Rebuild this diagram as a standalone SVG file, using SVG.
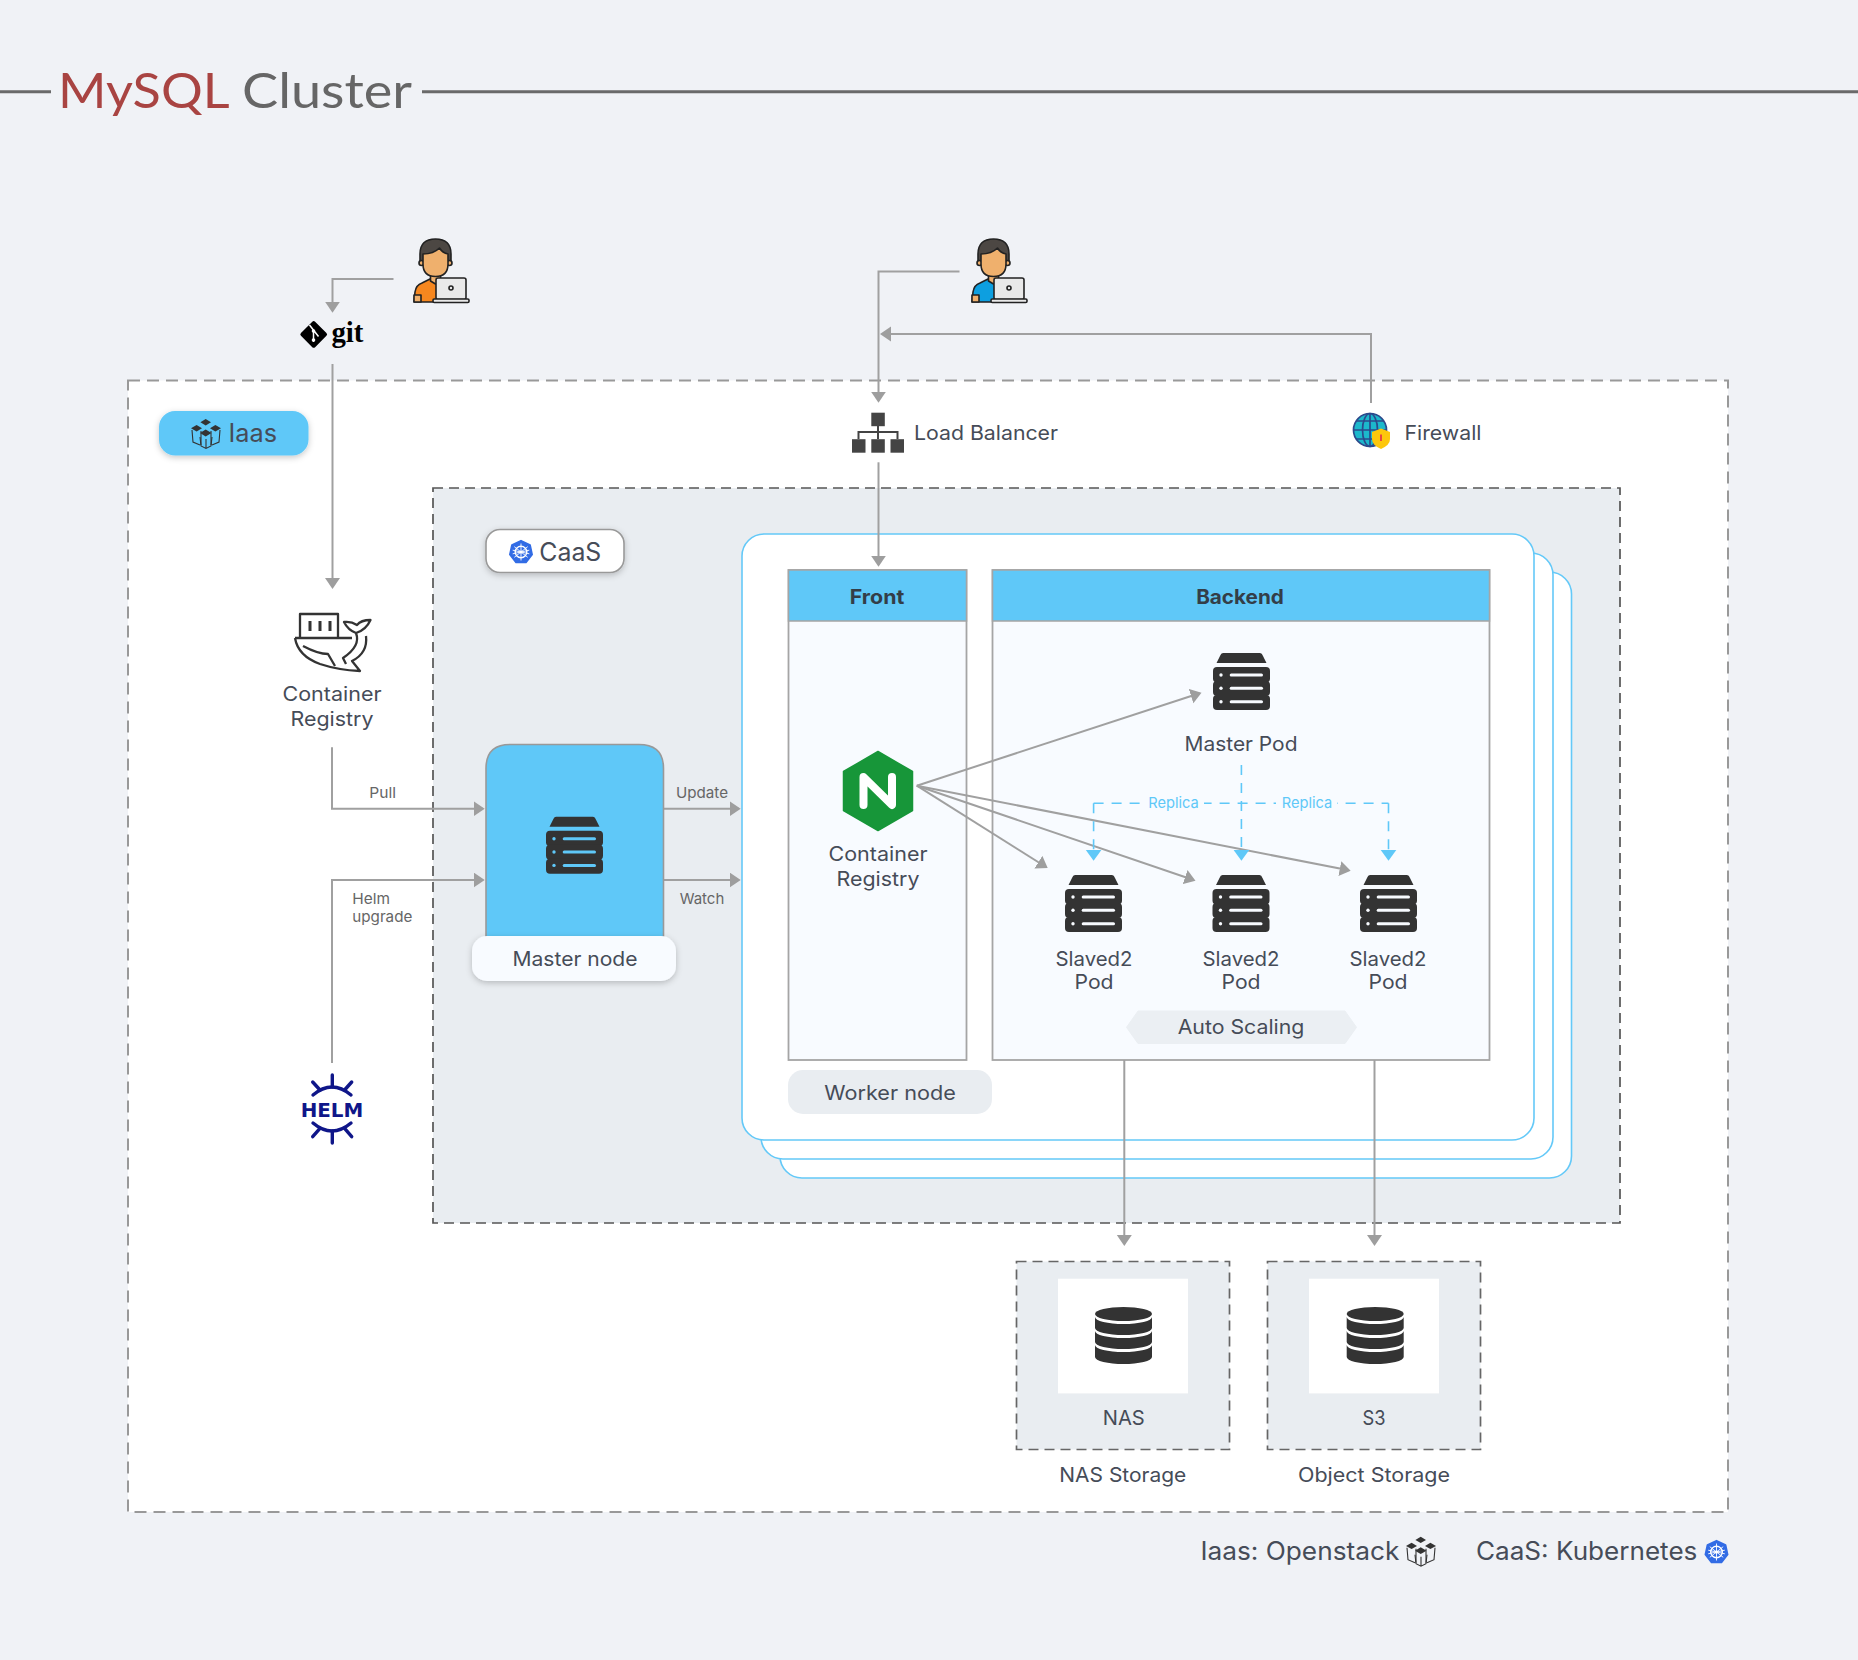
<svg xmlns="http://www.w3.org/2000/svg" width="1858" height="1660" viewBox="0 0 1858 1660">
<style>
text{font-family:Inter,"Noto Sans","Liberation Sans",sans-serif;fill:#464c58;font-size:20px}
.m{text-anchor:middle}
.s{font-size:15px;fill:#666}
.r{font-size:15px;fill:#5fc8f8;text-anchor:middle}
.l{font-size:25px}
.b{font-weight:700;fill:#333e48;text-anchor:middle}
.conn{fill:none;stroke:#a0a0a0;stroke-width:2}
.rep{fill:none;stroke:#5fc8f8;stroke-width:1.6;stroke-dasharray:10 8}
.worker{fill:#fff;stroke:#64c9f8;stroke-width:1.6}
.panel{fill:#f8fbff;stroke:#a5a5a5;stroke-width:1.8}
.head{fill:#5fc8f8;stroke:#a5a5a5;stroke-width:1.5}
.store{fill:#e9edf1;stroke:#666;stroke-width:1.7;stroke-dasharray:10 6}
</style>
<defs>
<filter id="sh" x="-20%" y="-30%" width="140%" height="170%"><feDropShadow dx="0" dy="2" stdDeviation="3" flood-color="#000" flood-opacity=".22"/></filter>
<marker id="a" markerUnits="userSpaceOnUse" markerWidth="12" markerHeight="16" refX="9" refY="7.5" orient="auto"><path d="M0 0L11 7.5L0 15Z" fill="#9e9e9e"/></marker>
<marker id="ab" markerUnits="userSpaceOnUse" markerWidth="12" markerHeight="17" refX="9" refY="8" orient="auto"><path d="M0 0L11 8L0 16Z" fill="#5fc8f8"/></marker>
<symbol id="server" viewBox="0 0 57 57" overflow="visible">
<path d="M10 0H47Q49 0 50 3L53.5 10H3.500L7 3Q8 0 10 0Z" fill="#333"/>
<rect y="14" width="57" height="15.500" rx="4" fill="#333"/><rect y="28" width="57" height="15" rx="4" fill="#333"/><rect y="42" width="57" height="15" rx="4" fill="#333"/>
<g fill="currentColor"><circle cx="8" cy="22" r="1.700"/><circle cx="8" cy="35.300" r="1.700"/><circle cx="8" cy="48.700" r="1.700"/>
<rect x="16.700" y="20.500" width="33.300" height="3" rx="1.500"/><rect x="16.700" y="33.800" width="33.300" height="3" rx="1.500"/><rect x="16.700" y="47.200" width="33.300" height="3" rx="1.500"/></g>
</symbol>
<symbol id="db" viewBox="0 0 57 57" overflow="visible"><g fill="#333">
<ellipse cx="28.500" cy="7" rx="28.500" ry="7"/>
<path d="M0 10A28.500 7 0 0 0 57 10V21A28.500 7 0 0 1 0 21Z"/>
<path d="M0 24A28.500 7 0 0 0 57 24V35A28.500 7 0 0 1 0 35Z"/>
<path d="M0 38A28.500 7 0 0 0 57 38V50A28.500 7 0 0 1 0 50Z"/></g>
</symbol>
<symbol id="user" viewBox="0 0 58 64" overflow="visible"><g stroke="#222" stroke-width="1.600" stroke-linejoin="round">
<path d="M2 63L3 53Q4 46 10 44L18 40H27V63Z" fill="currentColor"/>
<g transform="translate(1.500 0)">
<path d="M17 33H27V42L22 45L17 42Z" fill="#efb06d"/>
<path d="M6.500 25V15Q6.500 0 22 0Q37.500 0 37.500 15V25Z" fill="#4c4743"/>
<circle cx="8" cy="24" r="2.500" fill="#efb06d"/><circle cx="36" cy="24" r="2.500" fill="#efb06d"/>
<path d="M9.500 15Q20 15 26 9Q29 14 34.500 15V25Q34.500 37.500 22 37.500Q9.500 37.500 9.500 25Z" fill="#efb06d"/>
</g>
<path d="M2 63V56H9V63Z" fill="#efb06d"/>
<rect x="24" y="39" width="30" height="21.500" rx="2" fill="#e9e9e9"/>
<circle cx="39" cy="49" r="2" fill="#e9e9e9"/>
<rect x="21" y="60" width="36" height="3.500" rx="1.200" fill="#e9e9e9"/></g>
</symbol>
<symbol id="os" viewBox="0 0 30 30" overflow="visible"><g fill="none" stroke="#333" stroke-width="1.100">
<path d="M1 11L2 23L9 26M10 12V26"/><path d="M29 11L28 23L21 26M20 12V26"/>
<path d="M9 18L10 27L15 29.500L20 27L21 18M15 20V29.500"/></g>
<g fill="#333"><path d="M14.700 0L20 3.200L14.700 6.400L9.400 3.200Z"/><path d="M5.600 6L11 9.200L5.600 12.400L0 9.200Z"/><path d="M24.400 6L30 9.200L24.400 12.400L19 9.200Z"/><path d="M14.700 10.600L20.500 14L14.700 17.400L9 14Z"/></g>
</symbol>
<symbol id="k8s" viewBox="0 0 24 24" overflow="visible">
<path d="M12 .6L21.100 5L23.200 14.600L17 22.400H7L.8 14.600L2.900 5Z" fill="#326ce5" stroke="#326ce5" stroke-width="1.600" stroke-linejoin="round"/>
<g stroke="#fff" fill="none"><circle cx="12" cy="12" r="5.800" stroke-width="1.400"/>
<path stroke-width=".9" d="M12 3.500V20.500M5.300 6.700L18.700 17.300M18.700 6.700L5.300 17.300M3.700 13.800L20.300 10.200M3.700 10.200L20.300 13.800"/></g><circle cx="12" cy="12" r="1.600" fill="#fff"/>
</symbol>
</defs>
<rect id="background" width="1858" height="1660" fill="#f0f2f6"/>

<g id="title">
<path d="M0 91.700H51M422 91.700H1858" stroke="#6a6a6a" stroke-width="3" fill="none"/>
<text y="108" style="font-family:Lato,'Noto Sans',sans-serif;font-size:48px;fill:#666"><tspan x="58" textLength="170" lengthAdjust="spacingAndGlyphs" style="fill:#a94442">MySQL</tspan> <tspan x="242" textLength="170" lengthAdjust="spacingAndGlyphs">Cluster</tspan></text>
</g>

<g id="iaas-zone"><rect x="128" y="380.500" width="1600" height="1131.500" fill="#fff" stroke="#999" stroke-width="2" stroke-dasharray="12 7"/></g>
<g id="caas-zone"><rect x="433" y="488" width="1187" height="735" fill="#e9edf1" stroke="#555" stroke-width="1.700" stroke-dasharray="10 6"/></g>
<g id="worker-stack">
<rect class="worker" x="780" y="572" width="791.500" height="606" rx="22"/>
<rect class="worker" x="761" y="553" width="792" height="606" rx="22"/>
<rect class="worker" x="742" y="534" width="792" height="606" rx="22"/>
</g>
<g id="front">
<rect class="panel" x="788.500" y="570" width="178" height="490"/>
<rect class="head" x="788.500" y="570" width="178" height="51"/>
<text class="b" x="877" y="603.500" textLength="54.500" lengthAdjust="spacingAndGlyphs">Front</text>
</g>
<g id="backend">
<rect class="panel" x="992.500" y="570" width="497" height="490"/>
<rect class="head" x="992.500" y="570" width="497" height="51"/>
<text class="b" x="1240" y="603.500" textLength="87.700" lengthAdjust="spacingAndGlyphs">Backend</text>
</g>
<g id="nas-box"><rect class="store" x="1016.500" y="1261.500" width="213" height="188"/></g>
<g id="s3-box"><rect class="store" x="1267.500" y="1261.500" width="213" height="188"/></g>

<g id="connectors">
<path class="conn" d="M393.500 279H332.500V310.700" marker-end="url(#a)"/>
<path class="conn" d="M332.500 364V587" marker-end="url(#a)"/>
<path class="conn" d="M959.500 271.500H878.500V400.700" marker-end="url(#a)"/>
<path class="conn" d="M1371 403V334H882" marker-end="url(#a)"/>
<path class="conn" d="M878.500 462.300V564.700" marker-end="url(#a)"/>
<path class="conn" d="M332 747.300V808.700H482.700" marker-end="url(#a)"/>
<path class="conn" d="M332 1063V880H482.700" marker-end="url(#a)"/>
<path class="conn" d="M663.500 808.700H738.700" marker-end="url(#a)"/>
<path class="conn" d="M663.500 880H738.700" marker-end="url(#a)"/>
<path class="conn" d="M916.800 785.700L1199.600 693.300" marker-end="url(#a)"/>
<path class="conn" d="M916.800 785.700L1046 867" marker-end="url(#a)"/>
<path class="conn" d="M916.800 785.700L1193.600 880" marker-end="url(#a)"/>
<path class="conn" d="M916.800 785.700L1348.700 870.300" marker-end="url(#a)"/>
<path class="conn" d="M1124.300 1060V1244" marker-end="url(#a)"/>
<path class="conn" d="M1374.500 1060V1244" marker-end="url(#a)"/>
<path class="rep" d="M1093.600 803.300H1388.500"/>
<path class="rep" d="M1093.600 803.300V858.700" marker-end="url(#ab)"/>
<path class="rep" d="M1241.400 765V858.700" marker-end="url(#ab)"/>
<path class="rep" d="M1388.500 803.300V858.700" marker-end="url(#ab)"/>
<rect x="1143" y="793" width="61" height="20" fill="#f8fbff"/>
<rect x="1276" y="793" width="61" height="20" fill="#f8fbff"/>
<text class="r" x="1173.500" y="808" textLength="50.500" lengthAdjust="spacingAndGlyphs">Replica</text>
<text class="r" x="1307" y="808" textLength="50.500" lengthAdjust="spacingAndGlyphs">Replica</text>
<text class="s m" x="382.700" y="798" textLength="26.700" lengthAdjust="spacingAndGlyphs">Pull</text>
<text class="s" x="352.300" y="904" textLength="37.700" lengthAdjust="spacingAndGlyphs">Helm</text>
<text class="s" x="352.300" y="921.700" textLength="60" lengthAdjust="spacingAndGlyphs">upgrade</text>
<text class="s m" x="702" y="798" textLength="52" lengthAdjust="spacingAndGlyphs">Update</text>
<text class="s m" x="702" y="904" textLength="44.700" lengthAdjust="spacingAndGlyphs">Watch</text>
</g>

<g id="iaas-badge">
<rect x="159" y="411" width="149.500" height="44.500" rx="16" fill="#5fc8f8" filter="url(#sh)"/>
<use href="#os" x="191" y="419" width="30" height="30"/>
<text class="l" x="228.500" y="442" textLength="48.500" lengthAdjust="spacingAndGlyphs">Iaas</text>
</g>
<g id="caas-badge">
<rect x="486" y="529.500" width="138" height="43" rx="14" fill="#fff" stroke="#999" stroke-width="1.600" filter="url(#sh)"/>
<use href="#k8s" x="509" y="540" width="24" height="24"/>
<text class="l" x="539.300" y="561" textLength="62" lengthAdjust="spacingAndGlyphs">CaaS</text>
</g>

<g id="user-git"><use href="#user" x="412" y="239" width="58" height="64" color="#f6871f"/></g>
<g id="user-lb"><use href="#user" x="970" y="239" width="58" height="64" color="#0d9fe0"/></g>

<g id="git">
<rect x="303.700" y="324.400" width="20" height="20" rx="2" transform="rotate(45 313.700 334.400)" fill="#000"/>
<path d="M309.500 325L318.500 336.500M313.500 331V342" stroke="#fff" stroke-width="1.500" fill="none"/><circle cx="313.500" cy="331" r="1.800" fill="#fff"/><circle cx="313.500" cy="340" r="1.800" fill="#fff"/>
<text x="331.400" y="341.700" textLength="32" lengthAdjust="spacingAndGlyphs" style="font-family:'Liberation Serif',serif;font-weight:700;font-size:29px;fill:#000">git</text>
</g>

<g id="load-balancer">
<path d="M878 426V439M858.500 439V432H897.500V439" fill="none" stroke="#444" stroke-width="2"/>
<g fill="#444"><rect x="871.300" y="412.700" width="13.500" height="13.500"/><rect x="852" y="439.200" width="13.500" height="13.500"/><rect x="871.300" y="439.200" width="13.500" height="13.500"/><rect x="890.500" y="439.200" width="13.500" height="13.500"/></g>
<text x="914" y="440" textLength="144" lengthAdjust="spacingAndGlyphs">Load Balancer</text>
</g>

<g id="firewall">
<circle cx="1370" cy="430" r="16.500" fill="#1cb8cc"/>
<g fill="none" stroke="#2c4a8c" stroke-width="1.700"><circle cx="1370" cy="430" r="16.500"/><ellipse cx="1370" cy="430" rx="7.500" ry="16.500"/><path d="M1370 413.500V446.500M1353.500 430H1386.500M1356 421H1384M1356 439H1384"/></g>
<path d="M1381 428.500L1390 432V439Q1390 445 1381 449Q1372 445 1372 439V432Z" fill="#fdc70c"/>
<path d="M1381 434.500V441" stroke="#e8483f" stroke-width="2"/>
<text x="1404.500" y="440" textLength="77" lengthAdjust="spacingAndGlyphs">Firewall</text>
</g>

<g id="container-registry">
<g fill="none" stroke="#333" stroke-width="2.300" stroke-linejoin="round" transform="translate(288 608)">
<path d="M12 30V6H50V30"/><path d="M22 13V23M32 13V23M42 13V23" stroke-width="3"/>
<path d="M7 30H64M7 30Q10 48 32 56Q50 62 72 63L64 53Q80 45 78 28"/>
<path d="M15 38Q30 46 40 46L47 58"/>
<path d="M56 14Q60 22 68 25Q78 22 82.500 12Q73 12 69 17Q63 13 56 14Z"/>
<path d="M68 25Q73 38 55 50L58 56"/>
</g>
<text class="m" x="332" y="701" textLength="99" lengthAdjust="spacingAndGlyphs">Container</text>
<text class="m" x="332" y="725.500" textLength="83" lengthAdjust="spacingAndGlyphs">Registry</text>
</g>

<g id="helm">
<g fill="none" stroke="#0f1689" stroke-width="3.400" stroke-linecap="round">
<path d="M313 1095Q332 1079 351 1095M313 1123Q332 1139 351 1123"/>
<path d="M332.300 1075V1087M312.700 1082L320 1090M351.700 1082L344.600 1090M332.300 1131V1143M312.700 1136.700L320 1128.300M351.700 1136.700L344.600 1128.300"/>
</g>
<text class="m" x="332" y="1116.700" textLength="62.600" lengthAdjust="spacingAndGlyphs" style="font-family:'DejaVu Sans',sans-serif;font-weight:700;font-size:20px;fill:#0f1689">HELM</text>
</g>

<g id="master-node">
<path d="M486 944V768.500Q486 744.500 510 744.500H639Q663.500 744.500 663.500 768.500V944Z" fill="#5fc8f8" stroke="#999" stroke-width="1.600"/>
<use href="#server" x="546" y="816.700" width="57" height="57" color="#5fc8f8"/>
<rect x="472" y="936" width="204" height="45" rx="15" fill="#f8fbff" filter="url(#sh)"/>
<text class="m" x="575" y="966" textLength="125" lengthAdjust="spacingAndGlyphs">Master node</text>
</g>

<g id="worker-label">
<rect x="788" y="1070" width="204" height="44" rx="15" fill="#e9edf1"/>
<text class="m" x="890" y="1099.500" textLength="131.500" lengthAdjust="spacingAndGlyphs">Worker node</text>
</g>

<g id="nginx">
<path d="M878 751.500L912.500 771.500V810.500L878 830.500L843.500 810.500V771.500Z" fill="#179639" stroke="#179639" stroke-width="1.500" stroke-linejoin="round"/>
<path d="M863.500 805V777L892 805V777" fill="none" stroke="#fff" stroke-width="8" stroke-linecap="round" stroke-linejoin="round"/>
<text class="m" x="878" y="861" textLength="99" lengthAdjust="spacingAndGlyphs">Container</text>
<text class="m" x="878" y="885.500" textLength="83" lengthAdjust="spacingAndGlyphs">Registry</text>
</g>

<g id="master-pod">
<use href="#server" x="1213" y="653" width="57" height="57" color="#f8fbff"/>
<text class="m" x="1241" y="751" textLength="113" lengthAdjust="spacingAndGlyphs">Master Pod</text>
</g>
<g id="slave-pod-1">
<use href="#server" x="1065" y="875" width="57" height="57" color="#f8fbff"/>
<text class="m" x="1094" y="965.500" textLength="77" lengthAdjust="spacingAndGlyphs">Slaved2</text>
<text class="m" x="1094" y="989" textLength="39" lengthAdjust="spacingAndGlyphs">Pod</text>
</g>
<g id="slave-pod-2">
<use href="#server" x="1212.500" y="875" width="57" height="57" color="#f8fbff"/>
<text class="m" x="1241" y="965.500" textLength="77" lengthAdjust="spacingAndGlyphs">Slaved2</text>
<text class="m" x="1241" y="989" textLength="39" lengthAdjust="spacingAndGlyphs">Pod</text>
</g>
<g id="slave-pod-3">
<use href="#server" x="1360" y="875" width="57" height="57" color="#f8fbff"/>
<text class="m" x="1388" y="965.500" textLength="77" lengthAdjust="spacingAndGlyphs">Slaved2</text>
<text class="m" x="1388" y="989" textLength="39" lengthAdjust="spacingAndGlyphs">Pod</text>
</g>
<g id="auto-scaling">
<path d="M1138 1011H1345L1356.500 1027.300L1345 1043.500H1138L1126.500 1027.300Z" fill="#ebeff3" stroke="#ebeff3" stroke-linejoin="round"/>
<text class="m" x="1241" y="1034" textLength="126.700" lengthAdjust="spacingAndGlyphs">Auto Scaling</text>
</g>

<g id="nas">
<rect x="1058" y="1278.700" width="130" height="114.700" fill="#fff"/>
<use href="#db" x="1095" y="1307" width="57" height="57"/>
<text class="m" x="1123.800" y="1425" textLength="42" lengthAdjust="spacingAndGlyphs">NAS</text>
<text class="m" x="1122.800" y="1482" textLength="127" lengthAdjust="spacingAndGlyphs">NAS Storage</text>
</g>
<g id="s3">
<rect x="1309" y="1278.700" width="130" height="114.700" fill="#fff"/>
<use href="#db" x="1346.700" y="1307" width="57" height="57"/>
<text class="m" x="1374" y="1425" textLength="23" lengthAdjust="spacingAndGlyphs">S3</text>
<text class="m" x="1374" y="1482" textLength="152" lengthAdjust="spacingAndGlyphs">Object Storage</text>
</g>

<g id="legend">
<text class="l" x="1200.400" y="1560" textLength="199" lengthAdjust="spacingAndGlyphs">Iaas: Openstack</text>
<use href="#os" x="1406" y="1536.700" width="30" height="30"/>
<text class="l" x="1476" y="1560" textLength="221.400" lengthAdjust="spacingAndGlyphs">CaaS: Kubernetes</text>
<use href="#k8s" x="1704.500" y="1540" width="24" height="24"/>
</g>
</svg>
